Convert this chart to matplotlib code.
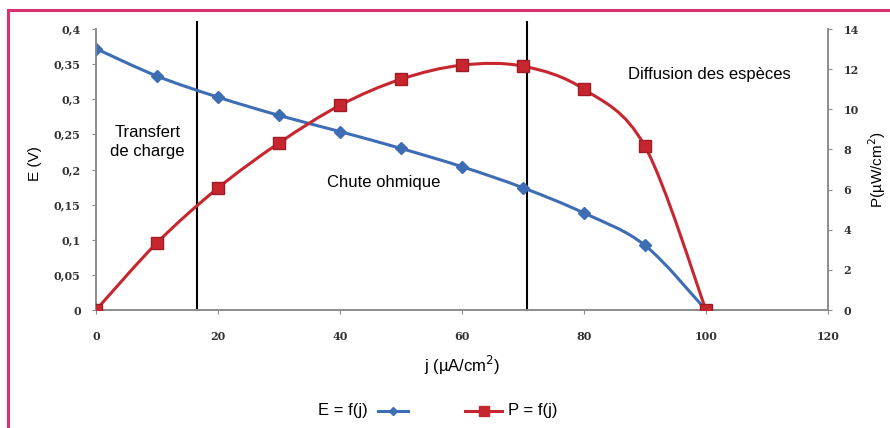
import matplotlib.pyplot as plt
from matplotlib.path import Path
from matplotlib.patches import PathPatch, Rectangle
from matplotlib.lines import Line2D
import numpy as np

# data
j = [0, 10, 20, 30, 40, 50, 60, 70, 80, 90, 100]
E = [0.372, 0.333, 0.303, 0.277, 0.254, 0.230, 0.204, 0.174, 0.138, 0.092, 0.0]
P = [0.0, 3.35, 6.08, 8.32, 10.2, 11.5, 12.2, 12.15, 11.0, 8.15, 0.0]
zone_limits = [16.6, 70.7]
xticks = [0, 20, 40, 60, 80, 100, 120]
yticks_E = [0, 0.05, 0.1, 0.15, 0.2, 0.25, 0.3, 0.35, 0.4]
ylabels_E = ["0", "0,05", "0,1", "0,15", "0,2", "0,25", "0,3", "0,35", "0,4"]
yticks_P = [0, 2, 4, 6, 8, 10, 12, 14]

BLUE = "#3d6db5"
RED = "#c8262f"
GREY = "#8c8c8c"


def smooth_path(x, y, t=1 / 6):
    # Excel-like smoothed line (Catmull-Rom as cubic Bezier)
    pts = np.column_stack([x, y]).astype(float)
    verts = [pts[0]]
    codes = [Path.MOVETO]
    n = len(pts)
    for i in range(n - 1):
        p0 = pts[max(i - 1, 0)]
        p1 = pts[i]
        p2 = pts[i + 1]
        p3 = pts[min(i + 2, n - 1)]
        c1 = p1 + (p2 - p0) * t
        c2 = p2 - (p3 - p1) * t
        verts += [c1, c2, p2]
        codes += [Path.CURVE4] * 3
    return Path(verts, codes)


fig = plt.figure(figsize=(8.9, 4.28), dpi=100)
ax = fig.add_axes([0.1079, 0.2757, 0.8224, 0.6565])
ax2 = ax.twinx()

# E curve on left axis
ax.add_patch(PathPatch(smooth_path(j, E), fill=False, edgecolor=BLUE, lw=2.2, zorder=3))
ax.plot(j, E, ls="none", marker="D", ms=6, color=BLUE, zorder=4)

# P curve on right axis
ax2.add_patch(PathPatch(smooth_path(j, P), fill=False, edgecolor=RED, lw=2.2, zorder=3))
ax2.plot(j, P, ls="none", marker="s", ms=9, color=RED, mec="#a01c24", zorder=4)

ax.set_xlim(0, 120)
ax.set_ylim(0, 0.4)
ax2.set_ylim(0, 14)

for a in (ax, ax2):
    a.spines["top"].set_visible(False)
    for s in ["left", "right", "bottom"]:
        a.spines[s].set_color(GREY)
        a.spines[s].set_linewidth(1.2)

tick_font = dict(family="DejaVu Serif", size=8, weight="bold")
ax.set_xticks(xticks)
ax.set_xticklabels([str(v) for v in xticks], **tick_font, color="#333333")
ax.set_yticks(yticks_E)
ax.set_yticklabels(ylabels_E, **tick_font, color="#333333")
ax2.set_yticks(yticks_P)
ax2.set_yticklabels([str(v) for v in yticks_P], **tick_font, color="#333333")
ax.tick_params(axis="x", length=3, color=GREY, pad=12)
ax.tick_params(axis="y", length=3, color=GREY, pad=8)
ax2.tick_params(axis="y", length=3, color=GREY, pad=8)

# zone separators
for x in zone_limits:
    ax.plot([x, x], [0, 0.41], color="black", lw=1.5, clip_on=False, zorder=2)

txt = dict(family="Liberation Sans", size=12, color="black")
ax.text(8.4, 0.239, "Transfert\nde charge", ha="center", va="center", linespacing=1.3, **txt)
ax.text(47.2, 0.181, "Chute ohmique", ha="center", va="center", **txt)
ax.text(100.5, 0.335, "Diffusion des espèces", ha="center", va="center", **txt)

ax.set_xlabel("j (µA/cm$^2$)", family="Liberation Sans", size=12)
ax.xaxis.set_label_coords(0.5, -0.155)
ax.set_ylabel("E (V)", family="Liberation Sans", size=11)
ax.yaxis.set_label_coords(-0.074, 0.52)
ax2.set_ylabel("P(µW/cm$^2$)", family="Liberation Sans", size=11)
ax2.yaxis.set_label_coords(1.052, 0.5)

# legend drawn like the original
ly = 1 - 411 / 428
fig.text(368 / 890, ly, "E = f(j)", ha="right", va="center", **txt)
fig.add_artist(Line2D([378 / 890, 408 / 890], [ly, ly], color=BLUE, lw=2.2))
fig.add_artist(Line2D([393 / 890], [ly], color=BLUE, marker="D", ms=4, ls="none"))
fig.add_artist(Line2D([465 / 890, 502 / 890], [ly, ly], color=RED, lw=2.2))
fig.add_artist(Line2D([483.5 / 890], [ly], color=RED, marker="s", ms=7, ls="none"))
fig.text(508 / 890, ly, "P = f(j)", ha="left", va="center", **txt)

# pink frame
fig.add_artist(Rectangle((8 / 890, -0.05), 1.2, 1 - 10 / 428 + 0.05, transform=fig.transFigure,
                         fill=False, edgecolor="#d4336e", lw=2.2))

fig.savefig("out.png", dpi=100)
